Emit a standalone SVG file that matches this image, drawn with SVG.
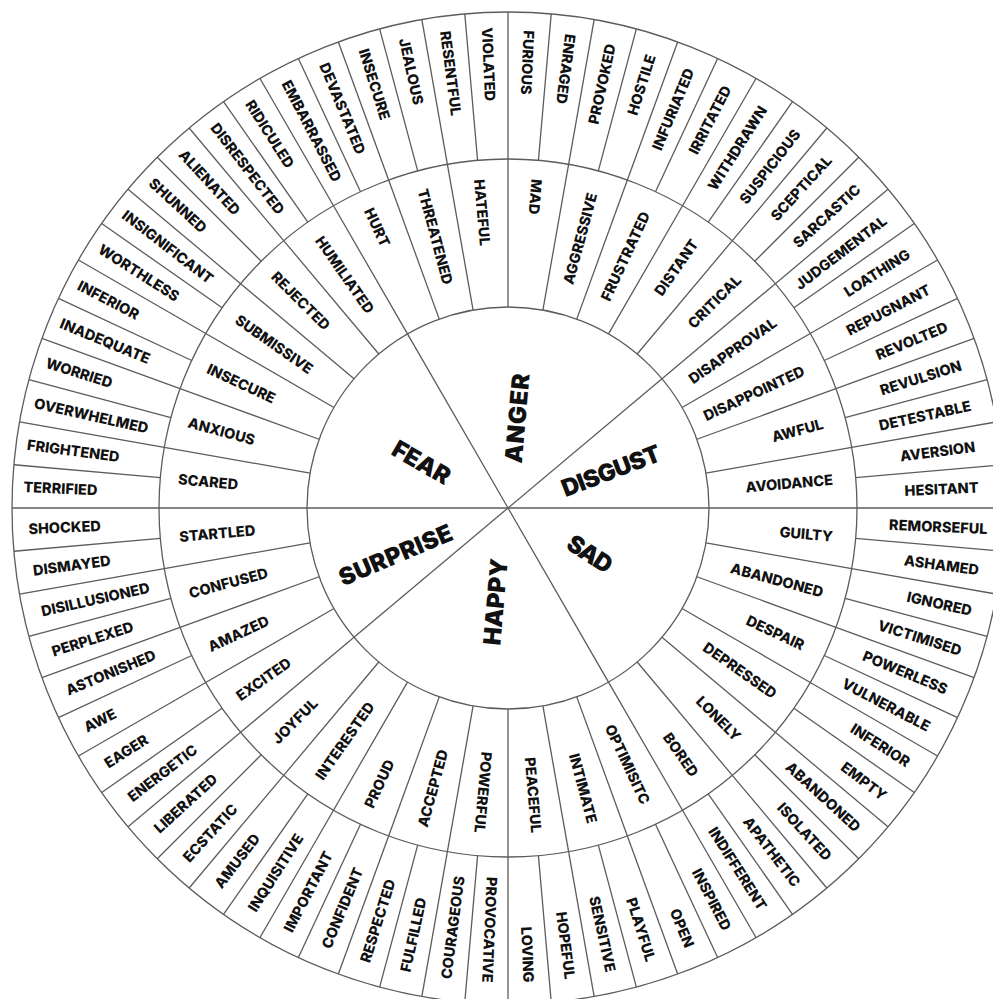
<svg xmlns="http://www.w3.org/2000/svg" xmlns:xlink="http://www.w3.org/1999/xlink" width="993" height="999" viewBox="0 0 993 999">
<style>
.ln{stroke:#5c5c5c;stroke-width:1.3;fill:none}
.t{font-family:Inter,"Noto Sans","DejaVu Sans",sans-serif;font-weight:800;font-size:14.5px;fill:#111}
.e{text-anchor:end}
.s{text-anchor:start}
.c{font-family:Inter,"Noto Sans","DejaVu Sans",sans-serif;font-weight:900;font-size:24px;fill:#111;text-anchor:middle}
</style>
<defs>
<line id="so" x1="0" y1="-349" x2="0" y2="-496"/>
<line id="sm" x1="0" y1="-201" x2="0" y2="-349"/>
<line id="sc" x1="0" y1="0" x2="0" y2="-201"/>
</defs>
<rect width="993" height="999" fill="#fff"/>
<g id="connectors" class="ln" transform="translate(508 508)">
<circle r="496"/><circle r="349"/><circle r="201"/>
<use href="#sc" transform="rotate(330)"/><use href="#sc" transform="rotate(50)"/><use href="#sc" transform="rotate(90)"/><use href="#sc" transform="rotate(150)"/><use href="#sc" transform="rotate(230)"/><use href="#sc" transform="rotate(270)"/>
<use href="#sm"/><use href="#sm" transform="rotate(10)"/><use href="#sm" transform="rotate(20)"/><use href="#sm" transform="rotate(30)"/><use href="#sm" transform="rotate(40)"/><use href="#sm" transform="rotate(50)"/><use href="#sm" transform="rotate(60)"/><use href="#sm" transform="rotate(70)"/><use href="#sm" transform="rotate(80)"/><use href="#sm" transform="rotate(90)"/><use href="#sm" transform="rotate(100)"/><use href="#sm" transform="rotate(110)"/><use href="#sm" transform="rotate(120)"/><use href="#sm" transform="rotate(130)"/><use href="#sm" transform="rotate(140)"/><use href="#sm" transform="rotate(150)"/><use href="#sm" transform="rotate(160)"/><use href="#sm" transform="rotate(170)"/><use href="#sm" transform="rotate(180)"/><use href="#sm" transform="rotate(190)"/><use href="#sm" transform="rotate(200)"/><use href="#sm" transform="rotate(210)"/><use href="#sm" transform="rotate(220)"/><use href="#sm" transform="rotate(230)"/><use href="#sm" transform="rotate(240)"/><use href="#sm" transform="rotate(250)"/><use href="#sm" transform="rotate(260)"/><use href="#sm" transform="rotate(270)"/><use href="#sm" transform="rotate(280)"/><use href="#sm" transform="rotate(290)"/><use href="#sm" transform="rotate(300)"/><use href="#sm" transform="rotate(310)"/><use href="#sm" transform="rotate(320)"/><use href="#sm" transform="rotate(330)"/><use href="#sm" transform="rotate(340)"/><use href="#sm" transform="rotate(350)"/>
<use href="#so"/><use href="#so" transform="rotate(5)"/><use href="#so" transform="rotate(10)"/><use href="#so" transform="rotate(15)"/><use href="#so" transform="rotate(20)"/><use href="#so" transform="rotate(25)"/><use href="#so" transform="rotate(30)"/><use href="#so" transform="rotate(35)"/><use href="#so" transform="rotate(40)"/><use href="#so" transform="rotate(45)"/><use href="#so" transform="rotate(50)"/><use href="#so" transform="rotate(55)"/><use href="#so" transform="rotate(60)"/><use href="#so" transform="rotate(65)"/><use href="#so" transform="rotate(70)"/><use href="#so" transform="rotate(75)"/><use href="#so" transform="rotate(80)"/><use href="#so" transform="rotate(85)"/><use href="#so" transform="rotate(90)"/><use href="#so" transform="rotate(95)"/><use href="#so" transform="rotate(100)"/><use href="#so" transform="rotate(105)"/><use href="#so" transform="rotate(110)"/><use href="#so" transform="rotate(115)"/><use href="#so" transform="rotate(120)"/><use href="#so" transform="rotate(125)"/><use href="#so" transform="rotate(130)"/><use href="#so" transform="rotate(135)"/><use href="#so" transform="rotate(140)"/><use href="#so" transform="rotate(145)"/><use href="#so" transform="rotate(150)"/><use href="#so" transform="rotate(155)"/><use href="#so" transform="rotate(160)"/><use href="#so" transform="rotate(165)"/><use href="#so" transform="rotate(170)"/><use href="#so" transform="rotate(175)"/><use href="#so" transform="rotate(180)"/><use href="#so" transform="rotate(185)"/><use href="#so" transform="rotate(190)"/><use href="#so" transform="rotate(195)"/><use href="#so" transform="rotate(200)"/><use href="#so" transform="rotate(205)"/><use href="#so" transform="rotate(210)"/><use href="#so" transform="rotate(215)"/><use href="#so" transform="rotate(220)"/><use href="#so" transform="rotate(225)"/><use href="#so" transform="rotate(230)"/><use href="#so" transform="rotate(235)"/><use href="#so" transform="rotate(240)"/><use href="#so" transform="rotate(245)"/><use href="#so" transform="rotate(250)"/><use href="#so" transform="rotate(255)"/><use href="#so" transform="rotate(260)"/><use href="#so" transform="rotate(265)"/><use href="#so" transform="rotate(270)"/><use href="#so" transform="rotate(275)"/><use href="#so" transform="rotate(280)"/><use href="#so" transform="rotate(285)"/><use href="#so" transform="rotate(290)"/><use href="#so" transform="rotate(295)"/><use href="#so" transform="rotate(300)"/><use href="#so" transform="rotate(305)"/><use href="#so" transform="rotate(310)"/><use href="#so" transform="rotate(315)"/><use href="#so" transform="rotate(320)"/><use href="#so" transform="rotate(325)"/><use href="#so" transform="rotate(330)"/><use href="#so" transform="rotate(335)"/><use href="#so" transform="rotate(340)"/><use href="#so" transform="rotate(345)"/><use href="#so" transform="rotate(350)"/><use href="#so" transform="rotate(355)"/>
</g>
<g transform="translate(508 508)">
<g id="anger">
<text class="c" transform="translate(9.2 -89.7) rotate(-85)" y="8.5" textLength="90">ANGER</text>
<text class="t s" transform="rotate(65)" x="-330" y="5.2">HURT</text>
<text class="t s" transform="rotate(75)" x="-330" y="5.2">THREATENED</text>
<text class="t s" transform="rotate(85)" x="-330" y="5.2">HATEFUL</text>
<text class="t s" transform="rotate(95)" x="-330" y="5.2">MAD</text>
<text class="t e" transform="rotate(-75)" x="326" y="5.2">AGGRESSIVE</text>
<text class="t e" transform="rotate(-65)" x="326" y="5.2">FRUSTRATED</text>
<text class="t e" transform="rotate(-55)" x="326" y="5.2">DISTANT</text>
<text class="t e" transform="rotate(-45)" x="326" y="5.2">CRITICAL</text>
<text class="t s" transform="rotate(62.5)" x="-481" y="5.2">EMBARRASSED</text>
<text class="t s" transform="rotate(67.5)" x="-481" y="5.2">DEVASTATED</text>
<text class="t s" transform="rotate(72.5)" x="-481" y="5.2">INSECURE</text>
<text class="t s" transform="rotate(77.5)" x="-481" y="5.2">JEALOUS</text>
<text class="t s" transform="rotate(82.5)" x="-481" y="5.2">RESENTFUL</text>
<text class="t s" transform="rotate(87.5)" x="-481" y="5.2">VIOLATED</text>
<text class="t s" transform="rotate(92.5)" x="-478" y="5.2">FURIOUS</text>
<text class="t s" transform="rotate(97.5)" x="-478" y="5.2">ENRAGED</text>
<text class="t e" transform="rotate(-77.5)" x="475" y="5.2">PROVOKED</text>
<text class="t e" transform="rotate(-72.5)" x="475" y="5.2">HOSTILE</text>
<text class="t e" transform="rotate(-67.5)" x="475" y="5.2">INFURIATED</text>
<text class="t e" transform="rotate(-62.5)" x="475" y="5.2">IRRITATED</text>
<text class="t e" transform="rotate(-57.5)" x="475" y="5.2">WITHDRAWN</text>
<text class="t e" transform="rotate(-52.5)" x="475" y="5.2">SUSPICIOUS</text>
<text class="t e" transform="rotate(-47.5)" x="475" y="5.2">SCEPTICAL</text>
<text class="t e" transform="rotate(-42.5)" x="475" y="5.2">SARCASTIC</text>
</g>
<g id="disgust">
<text class="c" transform="translate(103 -37.2) rotate(-21)" y="8.5" textLength="104">DISGUST</text>
<text class="t e" transform="rotate(-35)" x="326" y="5.2">DISAPPROVAL</text>
<text class="t e" transform="rotate(-25)" x="326" y="5.2">DISAPPOINTED</text>
<text class="t e" transform="rotate(-15)" x="326" y="5.2">AWFUL</text>
<text class="t e" transform="rotate(-5)" x="326" y="5.2">AVOIDANCE</text>
<text class="t e" transform="rotate(-37.5)" x="475" y="5.2">JUDGEMENTAL</text>
<text class="t e" transform="rotate(-32.5)" x="475" y="5.2">LOATHING</text>
<text class="t e" transform="rotate(-27.5)" x="475" y="5.2">REPUGNANT</text>
<text class="t e" transform="rotate(-22.5)" x="475" y="5.2">REVOLTED</text>
<text class="t e" transform="rotate(-17.5)" x="475" y="5.2">REVULSION</text>
<text class="t e" transform="rotate(-12.5)" x="474" y="5.2">DETESTABLE</text>
<text class="t e" transform="rotate(-7.5)" x="471" y="5.2">AVERSION</text>
<text class="t e" transform="rotate(-2.5)" x="471" y="5.2">HESITANT</text>
</g>
<g id="sad">
<text class="c" transform="translate(82 46) rotate(33)" y="8.5" textLength="49">SAD</text>
<text class="t e" transform="rotate(5)" x="326" y="5.2">GUILTY</text>
<text class="t e" transform="rotate(15)" x="326" y="5.2">ABANDONED</text>
<text class="t e" transform="rotate(25)" x="326" y="5.2">DESPAIR</text>
<text class="t e" transform="rotate(35)" x="326" y="5.2">DEPRESSED</text>
<text class="t e" transform="rotate(45)" x="326" y="5.2">LONELY</text>
<text class="t e" transform="rotate(55)" x="326" y="5.2">BORED</text>
<text class="t e" transform="rotate(2.5)" x="480" y="5.2">REMORSEFUL</text>
<text class="t e" transform="rotate(7.5)" x="475" y="5.2">ASHAMED</text>
<text class="t e" transform="rotate(12.5)" x="475" y="5.2">IGNORED</text>
<text class="t e" transform="rotate(17.5)" x="475" y="5.2">VICTIMISED</text>
<text class="t e" transform="rotate(22.5)" x="475" y="5.2">POWERLESS</text>
<text class="t e" transform="rotate(27.5)" x="475" y="5.2">VULNERABLE</text>
<text class="t e" transform="rotate(32.5)" x="475" y="5.2">INFERIOR</text>
<text class="t e" transform="rotate(37.5)" x="475" y="5.2">EMPTY</text>
<text class="t e" transform="rotate(42.5)" x="475" y="5.2">ABANDONED</text>
<text class="t e" transform="rotate(47.5)" x="475" y="5.2">ISOLATED</text>
<text class="t e" transform="rotate(52.5)" x="475" y="5.2">APATHETIC</text>
<text class="t e" transform="rotate(57.5)" x="475" y="5.2">INDIFFERENT</text>
</g>
<g id="happy">
<text class="c" transform="translate(-12.5 93.7) rotate(-85)" y="8.5" textLength="87">HAPPY</text>
<text class="t e" transform="rotate(65)" x="326" y="5.2">OPTIMISITC</text>
<text class="t e" transform="rotate(75)" x="326" y="5.2">INTIMATE</text>
<text class="t e" transform="rotate(85)" x="326" y="5.2">PEACEFUL</text>
<text class="t e" transform="rotate(95)" x="326" y="5.2">POWERFUL</text>
<text class="t s" transform="rotate(-75)" x="-330" y="5.2">ACCEPTED</text>
<text class="t s" transform="rotate(-65)" x="-330" y="5.2">PROUD</text>
<text class="t s" transform="rotate(-55)" x="-330" y="5.2">INTERESTED</text>
<text class="t s" transform="rotate(-45)" x="-330" y="5.2">JOYFUL</text>
<text class="t e" transform="rotate(62.5)" x="475" y="5.2">INSPIRED</text>
<text class="t e" transform="rotate(67.5)" x="475" y="5.2">OPEN</text>
<text class="t e" transform="rotate(72.5)" x="475" y="5.2">PLAYFUL</text>
<text class="t e" transform="rotate(77.5)" x="475" y="5.2">SENSITIVE</text>
<text class="t e" transform="rotate(82.5)" x="475" y="5.2">HOPEFUL</text>
<text class="t e" transform="rotate(87.5)" x="475" y="5.2">LOVING</text>
<text class="t e" transform="rotate(92.5)" x="475" y="5.2">PROVOCATIVE</text>
<text class="t s" transform="rotate(-82.5)" x="-475" y="5.2">COURAGEOUS</text>
<text class="t s" transform="rotate(-77.5)" x="-475" y="5.2">FULFILLED</text>
<text class="t s" transform="rotate(-72.5)" x="-476" y="5.2">RESPECTED</text>
<text class="t s" transform="rotate(-67.5)" x="-476" y="5.2">CONFIDENT</text>
<text class="t s" transform="rotate(-62.5)" x="-477" y="5.2">IMPORTANT</text>
<text class="t s" transform="rotate(-57.5)" x="-477" y="5.2">INQUISITIVE</text>
<text class="t s" transform="rotate(-52.5)" x="-477" y="5.2">AMUSED</text>
<text class="t s" transform="rotate(-47.5)" x="-477" y="5.2">ECSTATIC</text>
<text class="t s" transform="rotate(-42.5)" x="-477" y="5.2">LIBERATED</text>
</g>
<g id="surprise">
<text class="c" transform="translate(-112.5 47) rotate(-23)" y="8.5" textLength="121">SURPRISE</text>
<text class="t s" transform="rotate(-35)" x="-330" y="5.2">EXCITED</text>
<text class="t s" transform="rotate(-25)" x="-330" y="5.2">AMAZED</text>
<text class="t s" transform="rotate(-15)" x="-330" y="5.2">CONFUSED</text>
<text class="t s" transform="rotate(-5)" x="-330" y="5.2">STARTLED</text>
<text class="t s" transform="rotate(-37.5)" x="-477" y="5.2">ENERGETIC</text>
<text class="t s" transform="rotate(-32.5)" x="-477" y="5.2">EAGER</text>
<text class="t s" transform="rotate(-27.5)" x="-477" y="5.2">AWE</text>
<text class="t s" transform="rotate(-22.5)" x="-478" y="5.2">ASTONISHED</text>
<text class="t s" transform="rotate(-17.5)" x="-478" y="5.2">PERPLEXED</text>
<text class="t s" transform="rotate(-12.5)" x="-478" y="5.2">DISILLUSIONED</text>
<text class="t s" transform="rotate(-7.5)" x="-479" y="5.2">DISMAYED</text>
<text class="t s" transform="rotate(-2.5)" x="-480" y="5.2">SHOCKED</text>
</g>
<g id="fear">
<text class="c" transform="translate(-86.5 -45.5) rotate(30)" y="8.5" textLength="63">FEAR</text>
<text class="t s" transform="rotate(5)" x="-331" y="5.2">SCARED</text>
<text class="t s" transform="rotate(15)" x="-331" y="5.2">ANXIOUS</text>
<text class="t s" transform="rotate(25)" x="-331" y="5.2">INSECURE</text>
<text class="t s" transform="rotate(35)" x="-331" y="5.2">SUBMISSIVE</text>
<text class="t s" transform="rotate(45)" x="-331" y="5.2">REJECTED</text>
<text class="t s" transform="rotate(55)" x="-330" y="5.2">HUMILIATED</text>
<text class="t s" transform="rotate(2.5)" x="-485" y="5.2">TERRIFIED</text>
<text class="t s" transform="rotate(7.5)" x="-485" y="5.2">FRIGHTENED</text>
<text class="t s" transform="rotate(12.5)" x="-485" y="5.2">OVERWHELMED</text>
<text class="t s" transform="rotate(17.5)" x="-484" y="5.2">WORRIED</text>
<text class="t s" transform="rotate(22.5)" x="-484" y="5.2">INADEQUATE</text>
<text class="t s" transform="rotate(27.5)" x="-484" y="5.2">INFERIOR</text>
<text class="t s" transform="rotate(32.5)" x="-484" y="5.2">WORTHLESS</text>
<text class="t s" transform="rotate(37.5)" x="-484" y="5.2">INSIGNIFICANT</text>
<text class="t s" transform="rotate(42.5)" x="-484" y="5.2">SHUNNED</text>
<text class="t s" transform="rotate(47.5)" x="-483" y="5.2">ALIENATED</text>
<text class="t s" transform="rotate(52.5)" x="-483" y="5.2">DISRESPECTED</text>
<text class="t s" transform="rotate(57.5)" x="-482" y="5.2">RIDICULED</text>
</g>
</g>
</svg>
